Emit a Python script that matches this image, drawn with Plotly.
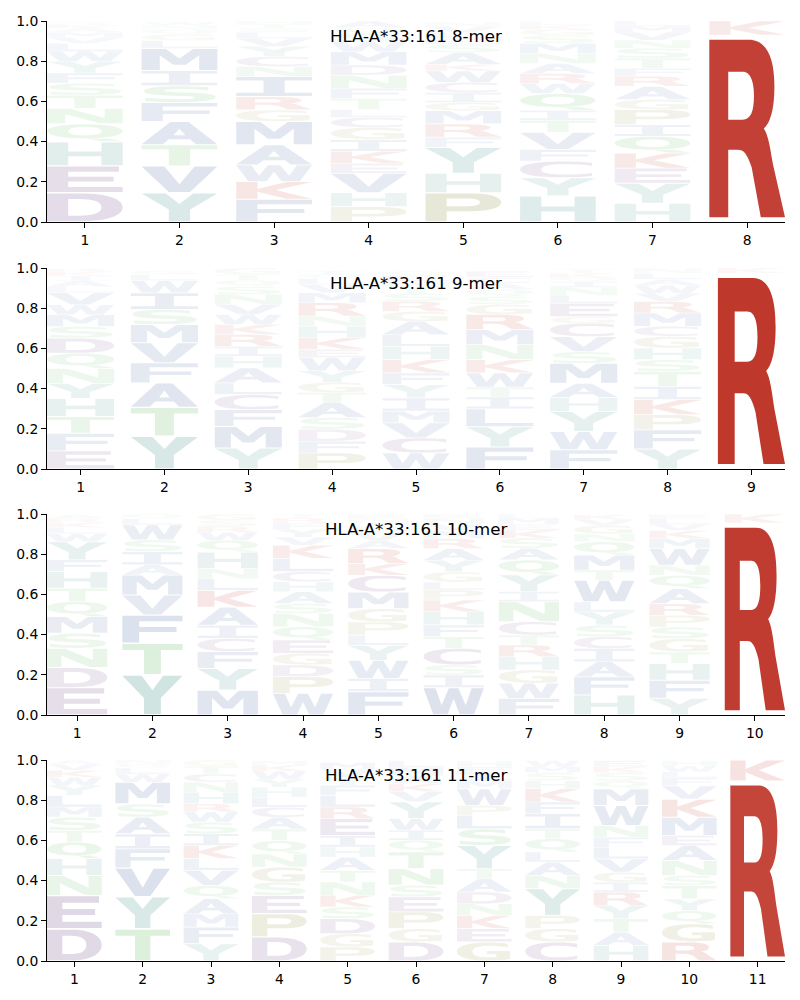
import re
import plotly.graph_objects as go

# ---------------- data (letters listed bottom -> top, with probabilities) ----------------
allele = "HLA-A*33:161"
lengths = [8, 9, 10, 11]

letters_8 = ["DEHQNTSFYWLVMAKRG", "YVTAFSIMLGQNW", "FKWAMGRINCYVLSTH", "PHVEKIGCLTFNDMWSQA",
             "PHYFRMGICWKASELVN", "HYCFVTIQWRANMSGKL", "HYEKQIPGARFTSNVML", "RK"]
probs_8 = [
    [.146, .133, .12, .09, .076, .066, .06, .05, .058, .05, .04, .03, .025, .02, .015, .01, .01],
    [.146, .133, .105, .116, .095, .083, .075, .11, .04, .03, .025, .02, .018],
    [.113, .088, .083, .1, .116, .058, .066, .1, .05, .05, .05, .04, .03, .02, .02, .016],
    [.076, .07, .096, .05, .06, .058, .06, .05, .04, .055, .05, .066, .05, .066, .05, .04, .03, .033],
    [.146, .096, .13, .05, .066, .066, .04, .05, .05, .058, .033, .058, .04, .03, .03, .03, .02],
    [.13, .09, .083, .058, .085, .06, .05, .083, .05, .05, .05, .05, .05, .04, .03, .02, .02],
    [.093, .1, .075, .075, .083, .058, .075, .05, .066, .05, .04, .05, .05, .04, .04, .03, .025],
    [.93, .07],
]

letters_9 = ["EFTHYNQDSMWVLAIKR", "YTAFVMSIWLG", "YMFCLAHIRKWVNSQTG", "PFDSATGYWEKHNRMVLQI",
             "WCVMIYFKHLAGRSTNEQ", "FYLITWKNMRGSQACE", "FWYHAMSVCGELNIQKT", "YFPKITSHGCMRVWALN", "RK"]
probs_9 = [
    [.09, .088, .083, .09, .075, .075, .075, .075, .058, .058, .05, .06, .03, .03, .025, .02, .015],
    [.163, .144, .121, .1, .1, .091, .075, .083, .06, .03, .02],
    [.104, .108, .083, .075, .058, .075, .058, .05, .058, .05, .05, .05, .05, .04, .03, .03, .03],
    [.08, .058, .06, .058, .075, .05, .05, .058, .066, .04, .058, .058, .05, .066, .05, .04, .03, .02, .02],
    [.08, .075, .075, .058, .066, .066, .058, .066, .066, .058, .066, .05, .05, .04, .03, .03, .03, .02],
    [.11, .1, .09, .058, .05, .07, .066, .075, .075, .075, .05, .04, .035, .03, .03, .03],
    [.096, .09, .1, .07, .07, .1, .058, .075, .066, .033, .066, .04, .04, .03, .02, .02, .02],
    [.1, .095, .075, .075, .066, .075, .058, .058, .058, .05, .066, .058, .04, .04, .03, .03, .025],
    [.975, .025],
]

letters_10 = ["EDNSMQTHFYWLKRA", "YTFVMAISWLQ", "MYFCIAKLNHQWRSG", "WPDGEQNSAHCLKVYFRT",
              "FIWYLPGMCKRAVSTNE", "WISCTFHKPLGYARMVNE", "FWGHRTCNIYQASKEML", "HFAICSYLWTMQNGVK",
              "YFHTGSPRAQNWMKVLE", "RK"]
probs_10 = [
    [.136, .1, .096, .075, .083, .075, .066, .083, .058, .09, .04, .03, .025, .02, .02],
    [.2, .157, .14, .1, .1, .05, .066, .058, .075, .03, .025],
    [.124, .108, .083, .066, .066, .09, .083, .058, .05, .083, .058, .04, .03, .03, .03],
    [.108, .083, .058, .058, .066, .066, .066, .05, .058, .05, .05, .066, .066, .04, .04, .03, .025, .02],
    [.116, .066, .09, .075, .05, .066, .066, .083, .083, .058, .075, .04, .04, .03, .02, .02, .02],
    [.136, .063, .05, .083, .058, .058, .066, .058, .05, .04, .05, .058, .058, .05, .04, .03, .03, .02],
    [.083, .075, .066, .066, .058, .05, .066, .1, .05, .083, .075, .058, .05, .04, .03, .03, .02],
    [.1, .09, .075, .066, .058, .058, .066, .05, .108, .05, .075, .066, .04, .04, .03, .025],
    [.083, .09, .083, .058, .066, .058, .058, .058, .075, .066, .05, .083, .05, .04, .03, .03, .02],
    [.955, .045],
]

letters_11 = ["DENHQTSMLYWKVA", "TYVFIASMWLQN", "YFMAQVLKISWRHNCTG", "DPESGNQTACLHYWKM",
              "PGDSKNTAHIERLFYVM", "DGPESNTQIWYVKAML", "GEKNDATYSLPWMIFH", "CGPYNALQTIFKHSMW",
              "HATYRIGVLFNWMQSKE", "RGQYTSNAEMKVFLWH", "RK"]
probs_11 = [
    [.16, .166, .1, .083, .083, .058, .066, .05, .058, .05, .04, .035, .03, .02],
    [.16, .16, .143, .095, .075, .083, .066, .108, .04, .03, .02, .02],
    [.086, .083, .066, .075, .066, .075, .058, .066, .058, .058, .05, .041, .058, .05, .04, .04, .03],
    [.12, .116, .09, .066, .075, .066, .066, .058, .058, .05, .05, .05, .04, .04, .03, .02],
    [.07, .066, .075, .058, .058, .066, .058, .066, .05, .058, .083, .058, .058, .05, .04, .04, .035],
    [.095, .066, .083, .075, .058, .083, .083, .058, .05, .058, .083, .05, .04, .04, .04, .035],
    [.095, .066, .066, .058, .058, .066, .05, .116, .083, .066, .05, .083, .04, .04, .03, .03],
    [.095, .066, .066, .133, .066, .066, .05, .066, .05, .075, .058, .066, .04, .04, .03, .03],
    [.078, .066, .066, .066, .066, .05, .05, .066, .058, .05, .058, .1, .083, .04, .04, .03, .03],
    [.095, .09, .066, .058, .066, .05, .075, .075, .05, .09, .09, .066, .04, .03, .03, .026],
    [.895, .105],
]

panels = [(letters_8, probs_8), (letters_9, probs_9), (letters_10, probs_10), (letters_11, probs_11)]

# ---------------- style ----------------
FONT = "DejaVu Sans"
W, H = 800, 1000
panel_px = [(21, 222), (268, 469), (514, 715), (760, 961)]   # top, bottom in pixels
x_px = (47, 785)
LETTER_W = 0.8
VPAD = 0.05

RED = (190, 52, 40)
PURPLE = (117, 76, 137)
TEAL = (70, 149, 141)
GREEN = (92, 184, 92)
OLIVE = (140, 140, 60)
BLUE = (70, 100, 160)
COLORS = {"K": RED, "R": RED, "D": PURPLE, "E": PURPLE, "C": PURPLE, "H": TEAL, "Y": TEAL,
          "N": GREEN, "Q": GREEN, "S": GREEN, "T": GREEN, "G": OLIVE, "P": OLIVE}

# glyph outlines in a unit box (u: 0..1 left->right, v: 0..1 bottom->top), even-odd fill
GLYPHS = {
    "A": "M0,0 L0.38,1 L0.62,1 L1,0 L0.72,0 L0.64,0.22 L0.36,0.22 L0.28,0 Z M0.42,0.4 L0.5,0.7 L0.58,0.4 Z",
    "C": "M0.95,0.08 C0.85,0.02 0.72,0 0.55,0 C0.2,0 0,0.2 0,0.5 C0,0.8 0.2,1 0.55,1 C0.72,1 0.85,0.98 0.95,0.92 "
         "L0.95,0.72 C0.85,0.8 0.72,0.82 0.58,0.82 C0.38,0.82 0.28,0.7 0.28,0.5 C0.28,0.3 0.38,0.18 0.58,0.18 "
         "C0.72,0.18 0.85,0.2 0.95,0.28 Z",
    "D": "M0,0 L0,1 L0.45,1 C0.8,1 1,0.8 1,0.5 C1,0.2 0.8,0 0.45,0 Z "
         "M0.28,0.2 L0.28,0.8 L0.42,0.8 C0.62,0.8 0.72,0.7 0.72,0.5 C0.72,0.3 0.62,0.2 0.42,0.2 Z",
    "E": "M0,0 L0,1 L0.95,1 L0.95,0.8 L0.28,0.8 L0.28,0.6 L0.88,0.6 L0.88,0.41 L0.28,0.41 L0.28,0.2 L1,0.2 L1,0 Z",
    "F": "M0,0 L0,1 L1,1 L1,0.8 L0.28,0.8 L0.28,0.58 L0.9,0.58 L0.9,0.39 L0.28,0.39 L0.28,0 Z",
    "G": "M0.97,0.08 C0.85,0.02 0.7,0 0.55,0 C0.2,0 0,0.2 0,0.5 C0,0.8 0.2,1 0.55,1 C0.72,1 0.85,0.97 0.93,0.92 "
         "L0.93,0.72 C0.83,0.79 0.7,0.82 0.58,0.82 C0.38,0.82 0.28,0.7 0.28,0.5 C0.28,0.3 0.38,0.18 0.58,0.18 "
         "C0.64,0.18 0.68,0.19 0.72,0.2 L0.72,0.36 L0.55,0.36 L0.55,0.53 L0.97,0.53 Z",
    "H": "M0,0 L0,1 L0.28,1 L0.28,0.6 L0.72,0.6 L0.72,1 L1,1 L1,0 L0.72,0 L0.72,0.4 L0.28,0.4 L0.28,0 Z",
    "I": "M0,0 L0,0.18 L0.36,0.18 L0.36,0.82 L0,0.82 L0,1 L1,1 L1,0.82 L0.64,0.82 L0.64,0.18 L1,0.18 L1,0 Z",
    "K": "M0,0 L0,1 L0.28,1 L0.28,0.58 L0.66,1 L1,1 L0.52,0.52 L1,0 L0.66,0 L0.28,0.42 L0.28,0 Z",
    "L": "M0,0 L0,1 L0.28,1 L0.28,0.2 L1,0.2 L1,0 Z",
    "M": "M0,0 L0,1 L0.32,1 L0.5,0.55 L0.68,1 L1,1 L1,0 L0.76,0 L0.76,0.7 L0.58,0.25 L0.42,0.25 L0.24,0.7 L0.24,0 Z",
    "N": "M0,0 L0,1 L0.3,1 L0.76,0.38 L0.76,1 L1,1 L1,0 L0.7,0 L0.24,0.62 L0.24,0 Z",
    "P": "M0,0 L0,1 L0.6,1 C0.85,1 1,0.88 1,0.68 C1,0.48 0.85,0.36 0.6,0.36 L0.28,0.36 L0.28,0 Z "
         "M0.28,0.54 L0.28,0.82 L0.55,0.82 C0.66,0.82 0.72,0.77 0.72,0.68 C0.72,0.59 0.66,0.54 0.55,0.54 Z",
    "Q": "M0.5,0.18 C0.2,0.18 0,0.36 0,0.59 C0,0.83 0.2,1 0.5,1 C0.8,1 1,0.83 1,0.59 C1,0.36 0.8,0.18 0.5,0.18 Z "
         "M0.5,0.35 C0.35,0.35 0.28,0.45 0.28,0.59 C0.28,0.74 0.35,0.83 0.5,0.83 C0.65,0.83 0.72,0.74 0.72,0.59 "
         "C0.72,0.45 0.65,0.35 0.5,0.35 Z M0.52,0.17 L0.72,0 L1,0 L0.8,0.17 Z",
    "R": "M0,0 L0,1 L0.52,1 C0.78,1 0.86,0.88 0.86,0.74 C0.86,0.6 0.8,0.53 0.72,0.5 C0.78,0.46 0.8,0.4 0.84,0.3 "
         "L1,0 L0.68,0 L0.56,0.28 C0.5,0.36 0.45,0.38 0.38,0.38 L0.25,0.38 L0.25,0 Z "
         "M0.25,0.55 L0.25,0.82 L0.44,0.82 C0.55,0.82 0.59,0.76 0.59,0.685 C0.59,0.6 0.55,0.55 0.44,0.55 Z",
    "S": "M0.05,0.04 C0.2,0 0.35,0 0.5,0 C0.8,0 0.98,0.12 0.98,0.32 C0.98,0.5 0.85,0.56 0.6,0.6 L0.45,0.62 "
         "C0.33,0.64 0.3,0.67 0.3,0.72 C0.3,0.79 0.38,0.82 0.5,0.82 C0.62,0.82 0.75,0.79 0.88,0.74 L0.88,0.94 "
         "C0.75,0.98 0.62,1 0.5,1 C0.2,1 0.03,0.88 0.03,0.69 C0.03,0.5 0.15,0.44 0.4,0.4 L0.55,0.38 "
         "C0.67,0.36 0.7,0.33 0.7,0.28 C0.7,0.21 0.62,0.18 0.5,0.18 C0.35,0.18 0.2,0.21 0.05,0.27 Z",
    "T": "M0,1 L1,1 L1,0.8 L0.64,0.8 L0.64,0 L0.36,0 L0.36,0.8 L0,0.8 Z",
    "V": "M0,1 L0.3,1 L0.5,0.3 L0.7,1 L1,1 L0.64,0 L0.36,0 Z",
    "W": "M0,1 L0.2,1 L0.3,0.35 L0.42,1 L0.58,1 L0.7,0.35 L0.8,1 L1,1 L0.84,0 L0.6,0 L0.5,0.6 L0.4,0 L0.16,0 Z",
    "Y": "M0,1 L0.32,1 L0.5,0.62 L0.68,1 L1,1 L0.64,0.42 L0.64,0 L0.36,0 L0.36,0.42 Z",
}

PAIR = re.compile(r"(-?[\d.]+),(-?[\d.]+)")


def glyph_path(letter, x0, y0, w, h):
    def repl(m):
        return f"{x0 + float(m.group(1)) * w:.5f},{y0 + float(m.group(2)) * h:.5f}"
    return PAIR.sub(repl, GLYPHS[letter])


fig = go.Figure()
shapes, annotations = [], []
layout_axes = {}

for k, ((letters, probs), n) in enumerate(zip(panels, lengths)):
    idx = "" if k == 0 else str(k + 1)
    xa, ya = "x" + idx, "y" + idx
    top, bot = panel_px[k]
    layout_axes["xaxis" + idx] = dict(
        domain=[x_px[0] / W, x_px[1] / W], anchor=ya, range=[0.6, n + 0.4],
        tickmode="array", tickvals=list(range(1, n + 1)), ticktext=[str(i) for i in range(1, n + 1)],
        showline=True, linecolor="black", linewidth=1, mirror=False, showgrid=False, zeroline=False,
        ticks="outside", ticklen=5, tickwidth=1, tickcolor="black",
        tickfont=dict(family=FONT, size=13.9, color="black"), fixedrange=True, automargin=False)
    layout_axes["yaxis" + idx] = dict(
        domain=[1 - bot / H, 1 - top / H], anchor=xa, range=[0, 1],
        tickmode="array", tickvals=[0, 0.2, 0.4, 0.6, 0.8, 1.0],
        ticktext=["0.0", "0.2", "0.4", "0.6", "0.8", "1.0"],
        showline=True, linecolor="black", linewidth=1, showgrid=False, zeroline=False,
        ticks="outside", ticklen=5, tickwidth=1, tickcolor="black",
        tickfont=dict(family=FONT, size=13.9, color="black"), fixedrange=True, automargin=False)

    hx, hy, ht = [], [], []
    for pos, (col_letters, col_probs) in enumerate(zip(letters, probs), start=1):
        base = 0.0
        for letter, p in zip(col_letters, col_probs):
            pad = VPAD * p / 2
            x0 = pos - LETTER_W / 2
            r, g, b = COLORS.get(letter, BLUE)
            alpha = min(1.0, p ** 0.85)
            shapes.append(dict(
                type="path", xref=xa, yref=ya, layer="below",
                path=glyph_path(letter, x0, base + pad, LETTER_W, p - 2 * pad),
                fillcolor=f"rgba({r},{g},{b},{alpha:.3f})", fillrule="evenodd",
                line=dict(width=0)))
            hx.append(pos)
            hy.append(base + p / 2)
            ht.append(f"{letter}: {p:.3f}")
            base += p

    fig.add_trace(go.Scatter(x=hx, y=hy, xaxis=xa, yaxis=ya, mode="markers",
                             marker=dict(size=6, opacity=0), hovertext=ht, hoverinfo="text",
                             showlegend=False))

    annotations.append(dict(
        text=f"{allele} {n}-mer", xref=xa + " domain", yref=ya + " domain", x=0.5, y=0.925,
        xanchor="center", yanchor="middle", showarrow=False,
        font=dict(family=FONT, size=16.6, color="black")))

fig.update_layout(
    width=W, height=H, margin=dict(l=0, r=0, t=0, b=0),
    paper_bgcolor="white", plot_bgcolor="white",
    font=dict(family=FONT, size=13.9, color="black"),
    shapes=shapes, annotations=annotations, showlegend=False,
    **layout_axes)

fig.write_html("out.html")
